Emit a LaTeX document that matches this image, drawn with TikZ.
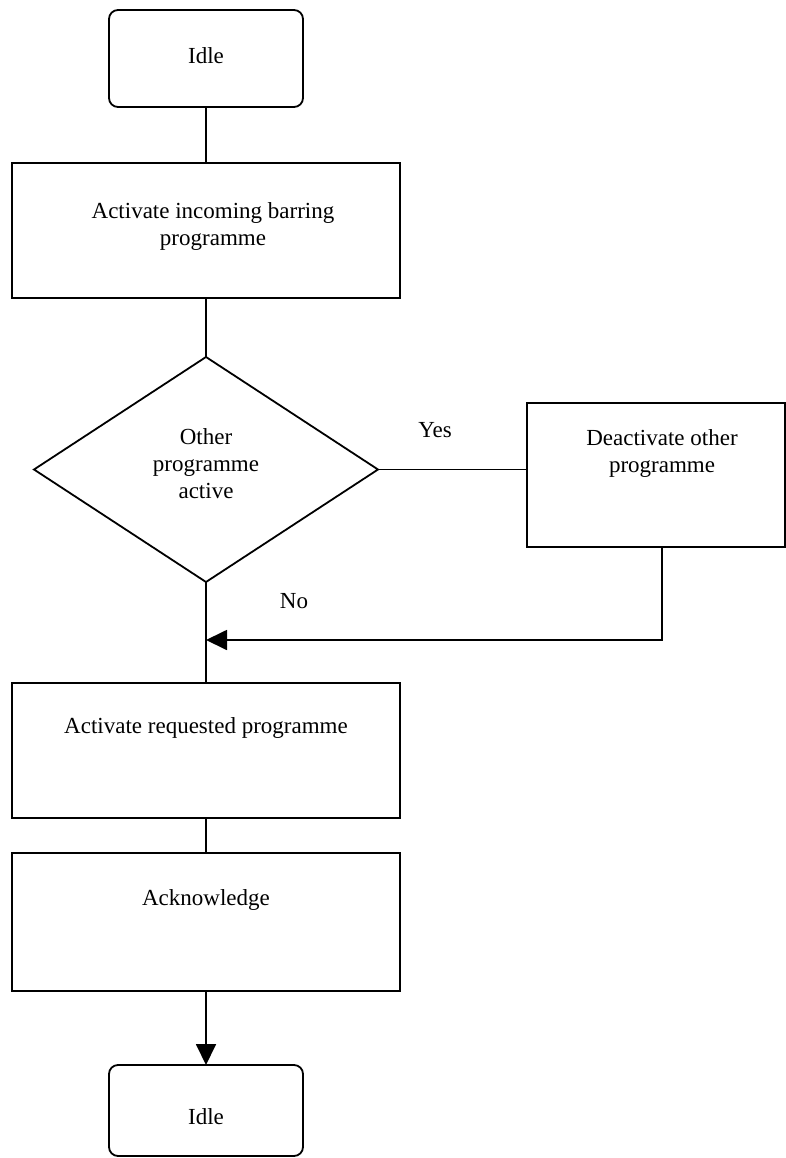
\documentclass[tikz,border=0pt]{standalone}
\usepackage{fontspec}
\setmainfont{Liberation Serif}
\usetikzlibrary{shapes.geometric,arrows.meta}
\begin{document}
\begin{tikzpicture}[x=1pt,y=-1pt,
  line width=1.8pt,
  box/.style={draw,rectangle,inner sep=0pt,outer sep=0pt},
  term/.style={box,rounded corners=9pt},
  dia/.style={draw,diamond,inner sep=0pt,outer sep=0pt},
  lbl/.style={anchor=base,inner sep=0pt,align=center,font=\fontsize{23}{27}\selectfont},
  tip/.style={-{Triangle[length=21pt,width=20pt]}}]
\useasboundingbox (0,0) rectangle (786,1158);
% shapes
\node[term,minimum width=194pt,minimum height=97pt] (idle1) at (206,58.5) {};
\node[box,minimum width=388pt,minimum height=135pt] (box1) at (206,230.5) {};
\node[dia,minimum width=344pt,minimum height=225pt] (dec) at (206,469.5) {};
\node[box,minimum width=258pt,minimum height=144pt] (deact) at (656,475) {};
\node[box,minimum width=388pt,minimum height=135pt] (box2) at (206,750.5) {};
\node[box,minimum width=388pt,minimum height=138pt] (box3) at (206,922) {};
\node[term,minimum width=194pt,minimum height=91pt] (idle2) at (206,1110.5) {};
% texts (multi-line: base = last line)
\node[lbl] (t0) at (206,64) {Idle};
\node[lbl] (t1) at (213,245) {Activate incoming barring\\programme};
\node[lbl] (t2) at (206,498) {Other\\programme\\active};
\node[lbl] (t3) at (662,472) {Deactivate other\\programme};
\node[lbl] (t4) at (206,733) {Activate requested programme};
\node[lbl] (t5) at (206,905) {Acknowledge};
\node[lbl] (t6) at (206,1124) {Idle};
\node[lbl] (yes) at (435,437) {Yes};
\node[lbl] (no) at (294,608) {No};
% connectors
\coordinate (merge) at (206,640);
\coordinate (dsrc) at (662,547);
\draw (idle1) -- (box1);
\draw (box1) -- (dec);
\draw (dec.east) -- (dec.east -| deact.west);
\draw (dec.south) -- (box2.north);
\draw[tip] (dsrc) |- (merge);
\draw (box2) -- (box3);
\draw[tip] (box3) -- (idle2);
\end{tikzpicture}
\end{document}
